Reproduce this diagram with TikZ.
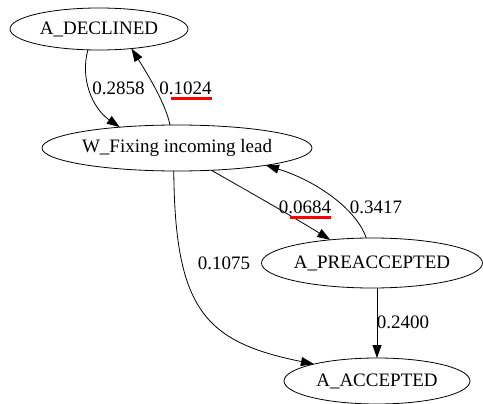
\documentclass[tikz,border=0pt]{standalone}
\usepackage{fontspec}
\setmainfont{Liberation Serif}
\usetikzlibrary{shapes.geometric,arrows.meta}
\begin{document}
\begin{tikzpicture}[x=1pt,y=-1pt,
  state/.style={ellipse,draw,line width=0.8pt,inner sep=0pt,outer sep=0pt,font=\fontsize{19}{22}\selectfont},
  edge/.style={line width=0.8pt,-{Triangle[length=13pt,width=9pt]}},
  lab/.style={inner sep=0pt,font=\fontsize{19}{22}\selectfont},
  uline/.style={red,line width=3pt}]
\useasboundingbox (0,0) rectangle (483,404);
\node[state,minimum width=178pt,minimum height=42pt] (dec) at (99,29) {A\_DECLINED};
\node[state,minimum width=270pt,minimum height=46pt] (fix) at (177,148) {W\_Fixing incoming lead};
\node[state,minimum width=218pt,minimum height=50pt] (pre) at (372,263) {A\_PREACCEPTED};
\node[state,minimum width=186pt,minimum height=46pt] (acc) at (377,381) {A\_ACCEPTED};
% edges
\draw[edge] (dec.242) .. controls (80,78) and (92,108) .. (fix.160.7);
\draw[edge] (fix.107) .. controls (166,105) and (150,78) .. (dec.329);
\draw[edge] (fix.327.6) .. controls (255,195) and (295,218) .. (pre.151.3);
\draw[edge] (pre.103.5) .. controls (358,212) and (320,182) .. (fix.349.8);
\draw[edge] (fix.262.6) .. controls (175,310) and (205,342) .. (acc.165.4);
\draw[edge] (acc.north |- pre.south) -- (acc.north);
% labels
\node[lab] (l1) at (118.5,88) {0.2858};
\node[lab] (l2) at (185.5,88) {0.1024};
\node[lab] (l3) at (305,207) {0.0684};
\node[lab] (l4) at (376,207) {0.3417};
\node[lab] (l5) at (224,263) {0.1075};
\node[lab] (l6) at (403,322) {0.2400};
\draw[uline] ([xshift=-41pt,yshift=-4pt]l2.base east) -- ([yshift=-4pt]l2.base east);
\draw[uline] ([xshift=-41pt,yshift=-4pt]l3.base east) -- ([yshift=-4pt]l3.base east);
\end{tikzpicture}
\end{document}
